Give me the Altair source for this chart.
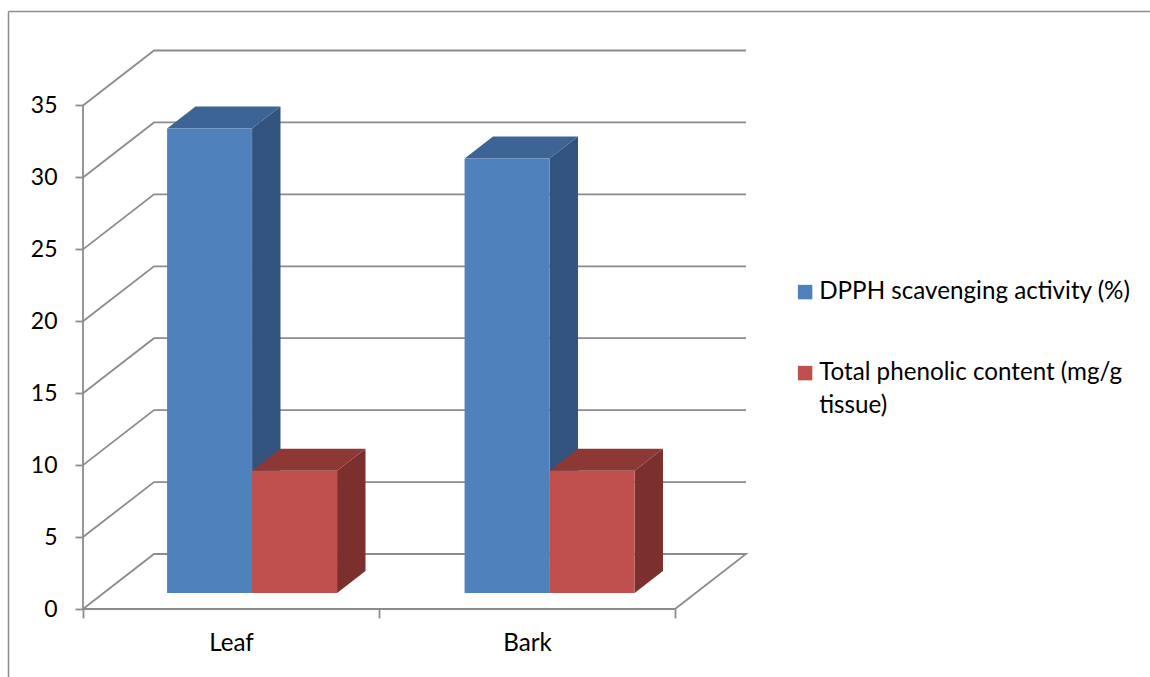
import altair as alt
import pandas as pd

# Chart values
categories = ["Leaf", "Bark"]
series = ["DPPH scavenging activity (%)", "Total phenolic content (mg/g tissue)"]
dpph_values = [32.3, 30.2]
phenolic_values = [8.5, 8.5]
value_ticks = [0, 5, 10, 15, 20, 25, 30, 35]

# Colours of the front, side and top faces per series
front_colors = ["#4F81BD", "#C0504D"]
side_colors = ["#31537E", "#7C302E"]
top_colors = ["#3C6494", "#8E3836"]
grid_color = "#8C8C8C"
text_font = "Lato"
text_size = 24.2
number_size = 23

# Oblique projection of the chart box, in axis units
PX_PER_CATEGORY = 296.0
PX_PER_VALUE = 14.386
BOX_DX = 71 / PX_PER_CATEGORY
BOX_DY = 55 / PX_PER_VALUE
BAR_WIDTH = 85 / PX_PER_CATEGORY
BAR_GAP = 63.5 / PX_PER_CATEGORY
BAR_STEP = 297.5 / PX_PER_CATEGORY
BAR_DEPTH_START = 0.29
BAR_DEPTH_END = 0.69

WIDTH = 665
HEIGHT = 558
x_scale = alt.Scale(domain=[0, WIDTH / PX_PER_CATEGORY], nice=False, zero=False)
y_scale = alt.Scale(domain=[0, HEIGHT / PX_PER_VALUE], nice=False, zero=False)

# Wall and floor lines
grid_rows = []
n_cat = len(categories)
for v in value_ticks:
    path = [(0, v), (BOX_DX, v + BOX_DY), (n_cat + BOX_DX, v + BOX_DY)]
    if v == 0:
        path += [(n_cat, 0), (0, 0)]
    for i, (px, py) in enumerate(path):
        grid_rows.append({"line": v, "i": i, "px": px, "py": py})
grid_rows += [
    {"line": -1, "i": 0, "px": 0, "py": 0},
    {"line": -1, "i": 1, "px": 0, "py": value_ticks[-1]},
]
grid = (
    alt.Chart(pd.DataFrame(grid_rows))
    .mark_line(color=grid_color, strokeWidth=1.8, clip=False)
    .encode(
        x=alt.X("px:Q", scale=x_scale, title=None,
                axis=alt.Axis(values=[0, 0.5, 1, 1.5, 2], domain=False, grid=False,
                              tickSize=9, tickWidth=1.8, tickColor=grid_color,
                              tickOpacity=alt.expr("datum.value % 1 == 0 ? 1 : 0"),
                              labelExpr="datum.value == 0.5 ? 'Leaf' : datum.value == 1.5 ? 'Bark' : ''",
                              labelFont=text_font, labelFontSize=text_size, labelColor="#000000",
                              labelPadding=13, labelAngle=0, labelOverlap=False,
                              labelBound=False, labelFlush=False)),
        y=alt.Y("py:Q", scale=y_scale, title=None,
                axis=alt.Axis(values=value_ticks, domain=False, grid=False,
                              tickSize=8, tickWidth=1.8, tickColor=grid_color,
                              labelFont=text_font, labelFontSize=number_size, labelColor="#000000",
                              labelPadding=18)),
        detail="line:N",
        order="i:Q",
    )
)

# Bar geometry, one row per category and series
bars = []
for c, cat in enumerate(categories):
    for s, vals in enumerate([dpph_values, phenolic_values]):
        x0 = c * BAR_STEP + BAR_GAP + s * BAR_WIDTH
        bars.append({"category": cat, "series": series[s], "s": s, "value": vals[c],
                     "x0": x0, "x1": x0 + BAR_WIDTH})

layers = [grid]
for b in bars:
    d0x, d1x = BAR_DEPTH_START * BOX_DX, BAR_DEPTH_END * BOX_DX
    d0y, d1y = BAR_DEPTH_START * BOX_DY, BAR_DEPTH_END * BOX_DY
    side = pd.DataFrame({
        "px": [b["x1"] + d0x, b["x1"] + d1x],
        "low": [d0y, d1y],
        "high": [b["value"] + d0y, b["value"] + d1y],
    })
    top = pd.DataFrame({
        "py": [b["value"] + d0y, b["value"] + d1y],
        "left": [b["x0"] + d0x, b["x0"] + d1x],
        "right": [b["x1"] + d0x, b["x1"] + d1x],
    })
    front = pd.DataFrame([{
        "series": b["series"],
        "left": b["x0"] + d0x, "right": b["x1"] + d0x,
        "low": d0y, "high": b["value"] + d0y,
    }])
    layers.append(
        alt.Chart(side).mark_area(color=side_colors[b["s"]], orient="vertical").encode(
            x=alt.X("px:Q", scale=x_scale),
            y=alt.Y("low:Q", scale=y_scale),
            y2="high:Q",
        )
    )
    layers.append(
        alt.Chart(top).mark_area(color=top_colors[b["s"]], orient="horizontal").encode(
            y=alt.Y("py:Q", scale=y_scale),
            x=alt.X("left:Q", scale=x_scale),
            x2="right:Q",
        )
    )
    layers.append(
        alt.Chart(front).mark_rect().encode(
            x=alt.X("left:Q", scale=x_scale),
            x2="right:Q",
            y=alt.Y("low:Q", scale=y_scale),
            y2="high:Q",
            color=alt.Color(
                "series:N",
                scale=alt.Scale(domain=series, range=front_colors),
                legend=alt.Legend(
                    title=None, orient="none", legendX=710, legendY=229,
                    symbolType="square", symbolSize=210, symbolStrokeWidth=0,
                    symbolOpacity=1, labelFont=text_font, labelFontSize=text_size,
                    labelColor="#000000", labelLimit=400, labelOffset=2,
                    rowPadding=56,
                    labelExpr="datum.label == 'Total phenolic content (mg/g tissue)'"
                              " ? ['Total phenolic content (mg/g', 'tissue)'] : datum.label",
                ),
            ),
        )
    )

# Thin outer frame along the top and left edges
frame = alt.Chart(pd.DataFrame({"edge": [0]})).mark_rule(color=grid_color, strokeWidth=1.5)
layers.append(frame.encode(x=alt.value(-74.5), y=alt.value(-39.5), y2=alt.value(626)))
layers.append(frame.encode(x=alt.value(-74.5), x2=alt.value(1067), y=alt.value(-39.5)))

chart = (
    alt.layer(*layers)
    .properties(
        width=WIDTH, height=HEIGHT,
        padding={"left": 83, "top": 51, "right": 402, "bottom": 68},
        autosize=alt.AutoSizeParams(type="none"),
        background="#FFFFFF",
    )
    .configure(
        view=alt.ViewConfig(stroke="transparent"),
        style={"guide-label": {"lineHeight": 33}},
    )
)

chart.save("out.html", embed_options={"renderer": "svg", "actions": False})
